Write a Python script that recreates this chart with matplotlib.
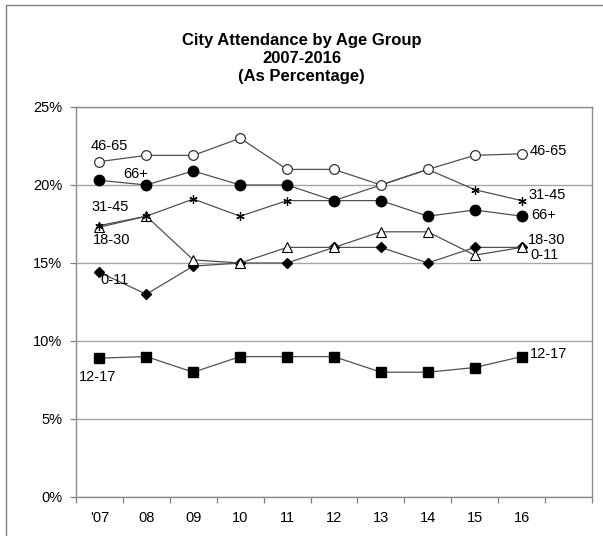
import matplotlib
matplotlib.use("Agg")
import matplotlib.pyplot as plt
from matplotlib.lines import Line2D

plt.rcParams['font.family'] = ['Liberation Sans', 'DejaVu Sans']

years = ["'07", "08", "09", "10", "11", "12", "13", "14", "15", "16"]

age_46_65 = [21.5, 21.9, 21.9, 23.0, 21.0, 21.0, 20.0, 21.0, 21.9, 22.0]
age_66_plus = [20.3, 20.0, 20.9, 20.0, 20.0, 19.0, 19.0, 18.0, 18.4, 18.0]
age_31_45 = [17.4, 18.0, 19.1, 18.0, 19.0, 19.0, 20.0, 21.0, 19.7, 19.0]
age_18_30 = [17.3, 18.0, 15.2, 15.0, 16.0, 16.0, 17.0, 17.0, 15.5, 16.0]
age_0_11 = [14.4, 13.0, 14.8, 15.0, 15.0, 16.0, 16.0, 15.0, 16.0, 16.0]
age_12_17 = [8.9, 9.0, 8.0, 9.0, 9.0, 9.0, 8.0, 8.0, 8.3, 9.0]

y_ticks = [0, 5, 10, 15, 20, 25]

line_color = "#505050"
grid_color = "#a6a6a6"

fig = plt.figure(figsize=(6.03, 5.36), dpi=100)
ax = fig.add_axes([76 / 603, 39 / 536, 516 / 603, 390 / 536])

x = list(range(len(years)))

series = [
    (age_12_17, dict(marker="s", markersize=6.5, markerfacecolor="black", markeredgecolor="black")),
    (age_0_11, dict(marker="D", markersize=4.8, markerfacecolor="black", markeredgecolor="black")),
    (age_18_30, dict(marker="^", markersize=6.5, markerfacecolor="white", markeredgecolor="black", markeredgewidth=0.8)),
    (age_31_45, dict(marker=(6, 2, 0), markersize=6, markeredgecolor="black", markeredgewidth=0.9)),
    (age_66_plus, dict(marker="o", markersize=7.5, markerfacecolor="black", markeredgecolor="black")),
    (age_46_65, dict(marker="o", markersize=7, markerfacecolor="white", markeredgecolor="#333333", markeredgewidth=0.9)),
]
for vals, style in series:
    ax.plot(x, vals, color=line_color, linewidth=0.9, zorder=3, **style)

ax.set_xlim(-0.5, 10.5)
ax.set_ylim(0, 25)
ax.set_yticks(y_ticks)
ax.set_yticklabels([f"{v}%" for v in y_ticks], fontsize=10.5)
ax.set_xticks(x)
ax.set_xticklabels(years, fontsize=10.5)
ax.set_xticks([i - 0.5 for i in range(12)], minor=True)
ax.tick_params(axis="x", which="major", length=0, pad=10)
ax.tick_params(axis="x", which="minor", length=4, direction="out", color="#808080", width=0.9)
ax.tick_params(axis="y", length=4, color="#808080", width=0.9, pad=6)

ax.yaxis.grid(True, color=grid_color, linewidth=1.0, zorder=0)
ax.set_axisbelow(True)
for side in ["left", "bottom", "right", "top"]:
    ax.spines[side].set_color("#8c8c8c")
    ax.spines[side].set_linewidth(1.0)

# Series labels at both ends of the lines
label_kw = dict(fontsize=10.5, va="center", ha="left", color="black", zorder=4)
left_labels = [
    ("46-65", -0.18, 22.5),
    ("66+", 0.5, 20.7),
    ("31-45", -0.18, 18.6),
    ("18-30", -0.14, 16.5),
    ("0-11", 0.01, 13.9),
    ("12-17", -0.44, 7.7),
]
right_labels = [
    ("46-65", 9.16, 22.2),
    ("31-45", 9.14, 19.35),
    ("66+", 9.2, 18.05),
    ("18-30", 9.14, 16.5),
    ("0-11", 9.18, 15.5),
    ("12-17", 9.18, 9.15),
]
for txt, lx, ly in left_labels + right_labels:
    ax.text(lx, ly, txt, **label_kw)

fig.text(0.5, 1 - 40 / 536, "City Attendance by Age Group", ha="center", va="center",
         fontsize=12, fontweight="bold")
fig.text(0.5, 1 - 58.5 / 536, "2007-2016", ha="center", va="center",
         fontsize=12, fontweight="bold")
fig.text(0.5, 1 - 77 / 536, "(As Percentage)", ha="center", va="center",
         fontsize=12, fontweight="bold")

# Outer chart border
fig.add_artist(Line2D([6 / 603, 6 / 603, 1.0], [0.0, 1 - 5 / 536, 1 - 5 / 536],
                      transform=fig.transFigure, color="#7f7f7f", linewidth=1.0))

fig.savefig("out.png", dpi=100)
